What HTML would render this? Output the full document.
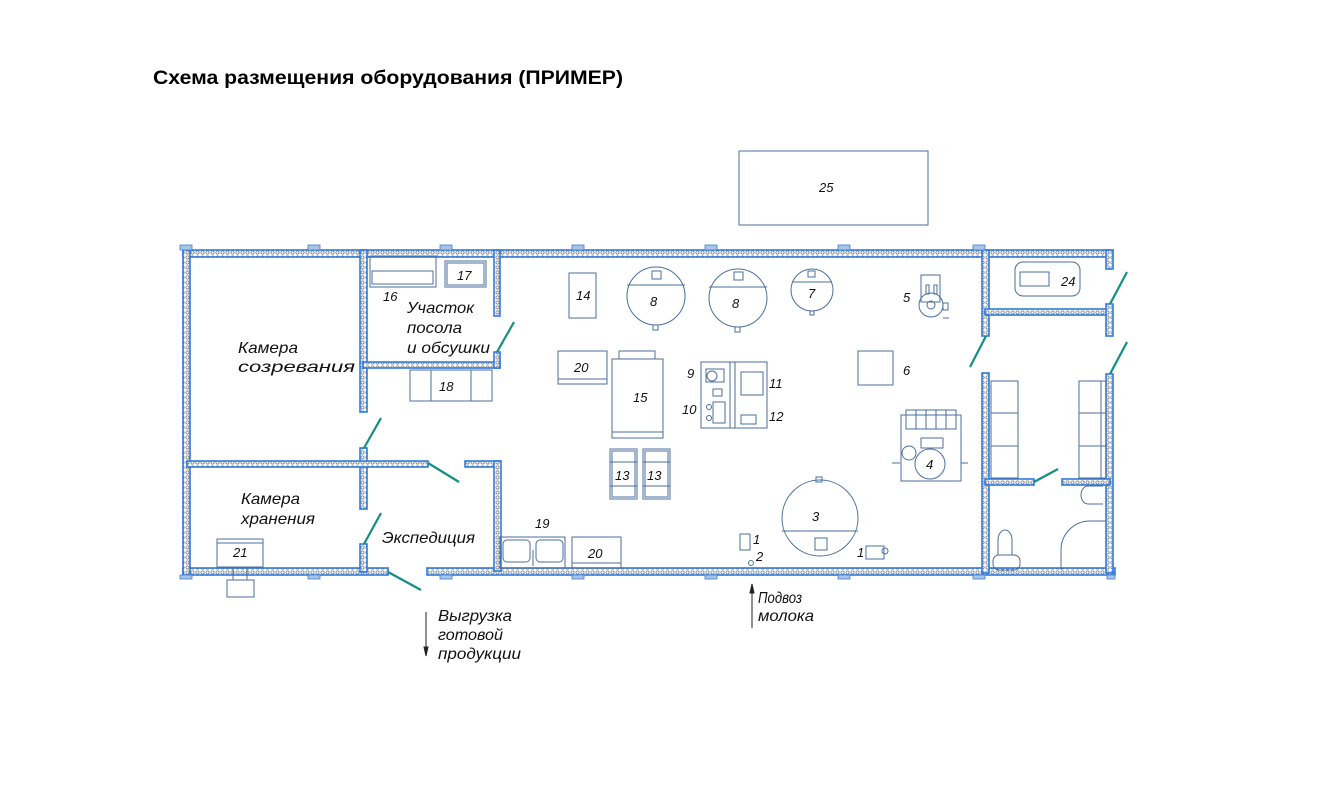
<!DOCTYPE html>
<html><head><meta charset="utf-8">
<style>
html,body{margin:0;padding:0;background:#fff;}
svg{display:block;}
.t{font-family:"Liberation Sans",sans-serif;font-style:italic;fill:#111;}
</style></head>
<body>
<svg width="1325" height="786" viewBox="0 0 1325 786" xmlns="http://www.w3.org/2000/svg">
<defs>
<pattern id="h" width="5" height="5" patternUnits="userSpaceOnUse">
<rect width="5" height="5" fill="#fff"/>
<circle cx="2.5" cy="2.5" r="1.6" fill="none" stroke="#777" stroke-width="0.8"/>
</pattern>
</defs>
<text x="153" y="84" font-family="Liberation Sans,sans-serif" font-weight="bold" font-size="19" fill="#000" textLength="470" lengthAdjust="spacingAndGlyphs">Схема размещения оборудования (ПРИМЕР)</text>

<g fill="url(#h)" stroke="#2e7be0" stroke-width="1.6">
<rect x="183" y="250" width="930" height="7"/>
<rect x="183" y="568" width="205" height="7"/>
<rect x="427" y="568" width="688" height="7"/>
<rect x="183" y="250" width="7" height="325"/>
<rect x="360" y="250" width="7" height="162"/>
<rect x="360" y="448" width="7" height="61"/>
<rect x="360" y="544" width="7" height="28"/>
<rect x="187" y="461" width="241" height="6"/>
<rect x="465" y="461" width="34" height="6"/>
<rect x="494" y="461" width="7" height="110"/>
<rect x="363" y="362" width="137" height="6"/>
<rect x="494" y="250" width="6" height="66"/>
<rect x="494" y="352" width="6" height="16"/>
<rect x="982" y="250" width="7" height="86"/>
<rect x="982" y="373" width="7" height="200"/>
<rect x="985" y="309" width="127" height="6"/>
<rect x="1106" y="250" width="7" height="19"/>
<rect x="1106" y="304" width="7" height="32"/>
<rect x="1106" y="374" width="7" height="199"/>
<rect x="985" y="479" width="49" height="6"/>
<rect x="1062" y="479" width="48" height="6"/>
</g>
<g fill="#a9c4e6" stroke="#3a7fd5" stroke-width="0.8">
<rect x="180" y="245" width="12" height="5"/><rect x="308" y="245" width="12" height="5"/><rect x="440" y="245" width="12" height="5"/><rect x="572" y="245" width="12" height="5"/><rect x="705" y="245" width="12" height="5"/><rect x="838" y="245" width="12" height="5"/><rect x="973" y="245" width="12" height="5"/>
<rect x="180" y="575" width="12" height="4"/><rect x="308" y="575" width="12" height="4"/><rect x="440" y="575" width="12" height="4"/><rect x="572" y="575" width="12" height="4"/><rect x="705" y="575" width="12" height="4"/><rect x="838" y="575" width="12" height="4"/><rect x="973" y="575" width="12" height="4"/><rect x="1107" y="575" width="8" height="4"/>
</g>
<g stroke="#138f85" stroke-width="2.2">
<line x1="364" y1="448" x2="381" y2="418"/>
<line x1="364" y1="544" x2="381" y2="513"/>
<line x1="428" y1="463" x2="459" y2="482"/>
<line x1="388" y1="572" x2="421" y2="590"/>
<line x1="497" y1="352" x2="514" y2="322"/>
<line x1="986" y1="336" x2="970" y2="367"/>
<line x1="1110" y1="304" x2="1127" y2="272"/>
<line x1="1110" y1="374" x2="1127" y2="342"/>
<line x1="1034" y1="482" x2="1058" y2="469"/>
</g>

<g fill="none" stroke="#4a6f9e" stroke-width="1">
<rect x="739" y="151" width="189" height="74"/>
<rect x="370" y="256" width="66" height="31"/><rect x="372" y="271" width="61" height="13"/>
<rect x="445" y="261" width="41" height="26"/><rect x="447" y="263" width="37" height="22"/>
<rect x="410" y="370" width="82" height="31"/><rect x="431" y="370" width="40" height="31"/>
<rect x="569" y="273" width="27" height="45"/>
<circle cx="656" cy="296" r="29"/><line x1="627" y1="285" x2="685" y2="285"/><rect x="652" y="271" width="9" height="8"/><rect x="653" y="325" width="5" height="5"/>
<circle cx="738" cy="298" r="29"/><line x1="709" y1="287" x2="767" y2="287"/><rect x="734" y="272" width="9" height="8"/><rect x="735" y="327" width="5" height="5"/>
<circle cx="812" cy="290" r="21"/><line x1="792" y1="282" x2="832" y2="282"/><rect x="808" y="271" width="7" height="6"/><rect x="810" y="311" width="4" height="4"/>
<rect x="921" y="275" width="19" height="27"/><circle cx="931" cy="305" r="12"/><circle cx="931" cy="305" r="4"/><rect x="926" y="285" width="3" height="9"/><rect x="934" y="285" width="3" height="9"/><rect x="943" y="303" width="5" height="7"/><line x1="943" y1="318" x2="949" y2="318"/>
<rect x="558" y="351" width="49" height="33"/><line x1="558" y1="379" x2="607" y2="379"/>
<rect x="612" y="359" width="51" height="79"/><line x1="612" y1="432" x2="663" y2="432"/><rect x="619" y="351" width="36" height="8"/>
<rect x="701" y="362" width="66" height="66"/><line x1="730" y1="362" x2="730" y2="428"/><line x1="735" y1="362" x2="735" y2="428"/>
<rect x="706" y="369" width="18" height="13"/><circle cx="712" cy="376" r="5"/><rect x="713" y="389" width="9" height="7"/><rect x="713" y="402" width="12" height="21"/><circle cx="709" cy="407" r="2.5"/><circle cx="709" cy="418" r="2.5"/>
<rect x="741" y="372" width="22" height="23"/><rect x="741" y="415" width="15" height="9"/>
<rect x="858" y="351" width="35" height="34"/>
<rect x="901" y="415" width="60" height="66"/><rect x="906" y="410" width="50" height="19"/><line x1="916" y1="410" x2="916" y2="429"/><line x1="926" y1="410" x2="926" y2="429"/><line x1="936" y1="410" x2="936" y2="429"/><line x1="946" y1="410" x2="946" y2="429"/>
<rect x="921" y="438" width="22" height="10"/><circle cx="909" cy="453" r="7"/><circle cx="930" cy="464" r="15"/><line x1="892" y1="463" x2="900" y2="463"/><line x1="961" y1="463" x2="968" y2="463"/>
<rect x="610" y="449" width="27" height="50"/><rect x="612" y="451" width="23" height="46"/><line x1="610" y1="462" x2="637" y2="462"/><line x1="610" y1="486" x2="637" y2="486"/>
<rect x="643" y="449" width="27" height="50"/><rect x="645" y="451" width="23" height="46"/><line x1="643" y1="462" x2="670" y2="462"/><line x1="643" y1="486" x2="670" y2="486"/>
<circle cx="820" cy="518" r="38"/><line x1="782" y1="531" x2="858" y2="531"/><rect x="815" y="538" width="12" height="12"/><rect x="816" y="477" width="6" height="5"/>
<rect x="740" y="534" width="10" height="16"/><circle cx="751" cy="563" r="2.5"/>
<rect x="866" y="546" width="18" height="13"/><circle cx="885" cy="551" r="3"/>
<rect x="500" y="537" width="65" height="31"/><rect x="503" y="540" width="27" height="22" rx="4"/><rect x="536" y="540" width="27" height="22" rx="4"/><line x1="533" y1="550" x2="533" y2="566"/>
<rect x="572" y="537" width="49" height="31"/><line x1="572" y1="563" x2="621" y2="563"/>
<rect x="217" y="539" width="46" height="28"/><line x1="217" y1="543" x2="263" y2="543"/><rect x="227" y="580" width="27" height="17"/><line x1="233" y1="567" x2="233" y2="580"/><line x1="247" y1="567" x2="247" y2="580"/>
<rect x="1015" y="262" width="65" height="34" rx="8"/><rect x="1020" y="272" width="29" height="14"/>
<rect x="991" y="381" width="27" height="97"/><line x1="991" y1="413" x2="1018" y2="413"/><line x1="991" y1="446" x2="1018" y2="446"/>
<rect x="1079" y="381" width="27" height="97"/><line x1="1079" y1="413" x2="1106" y2="413"/><line x1="1079" y1="446" x2="1106" y2="446"/><line x1="1101" y1="381" x2="1101" y2="478"/>
<rect x="993" y="555" width="27" height="15" rx="6"/><path d="M998 555 V540 a7 10 0 0 1 14 0 V555"/>
<path d="M1103 486 h-15 a7 9 0 0 0 0 18 h15"/>
<path d="M1106 521 H1090 a29 29 0 0 0 -29 29 V570"/>
</g>

<g stroke="#222" stroke-width="1" fill="#222">
<line x1="426" y1="612" x2="426" y2="652"/><path d="M424 647 L426 656 L428 647 Z"/>
<line x1="752" y1="588" x2="752" y2="628"/><path d="M750 593 L752 584 L754 593 Z"/>
</g>

<g class="t" font-size="13">
<text x="819" y="192">25</text>
<text x="383" y="301">16</text>
<text x="457" y="280">17</text>
<text x="576" y="300">14</text>
<text x="650" y="306">8</text>
<text x="732" y="308">8</text>
<text x="808" y="298">7</text>
<text x="903" y="302">5</text>
<text x="574" y="372">20</text>
<text x="633" y="402">15</text>
<text x="687" y="378">9</text>
<text x="682" y="414">10</text>
<text x="769" y="388">11</text>
<text x="769" y="421">12</text>
<text x="903" y="375">6</text>
<text x="439" y="391">18</text>
<text x="926" y="469">4</text>
<text x="615" y="480">13</text>
<text x="647" y="480">13</text>
<text x="812" y="521">3</text>
<text x="753" y="544">1</text>
<text x="756" y="561">2</text>
<text x="857" y="557">1</text>
<text x="535" y="528">19</text>
<text x="588" y="558">20</text>
<text x="233" y="557">21</text>
<text x="1061" y="286">24</text>
</g>
<g class="t" font-size="16" lengthAdjust="spacingAndGlyphs">
<text x="238" y="353" textLength="60" lengthAdjust="spacingAndGlyphs">Камера</text><text x="238" y="372" textLength="117" lengthAdjust="spacingAndGlyphs">созревания</text>
<text x="407" y="313" textLength="67" lengthAdjust="spacingAndGlyphs">Участок</text><text x="407" y="333" textLength="55" lengthAdjust="spacingAndGlyphs">посола</text><text x="407" y="353" textLength="83" lengthAdjust="spacingAndGlyphs">и обсушки</text>
<text x="241" y="504" textLength="59" lengthAdjust="spacingAndGlyphs">Камера</text><text x="241" y="524" textLength="74" lengthAdjust="spacingAndGlyphs">хранения</text>
<text x="382" y="543" textLength="93" lengthAdjust="spacingAndGlyphs">Экспедиция</text>
<text x="438" y="621" textLength="74" lengthAdjust="spacingAndGlyphs">Выгрузка</text><text x="438" y="640" textLength="65" lengthAdjust="spacingAndGlyphs">готовой</text><text x="438" y="659" textLength="83" lengthAdjust="spacingAndGlyphs">продукции</text>
<text x="758" y="603" textLength="44" lengthAdjust="spacingAndGlyphs">Подвоз</text><text x="758" y="621" textLength="56" lengthAdjust="spacingAndGlyphs">молока</text>
</g>
</svg>
</body></html>
